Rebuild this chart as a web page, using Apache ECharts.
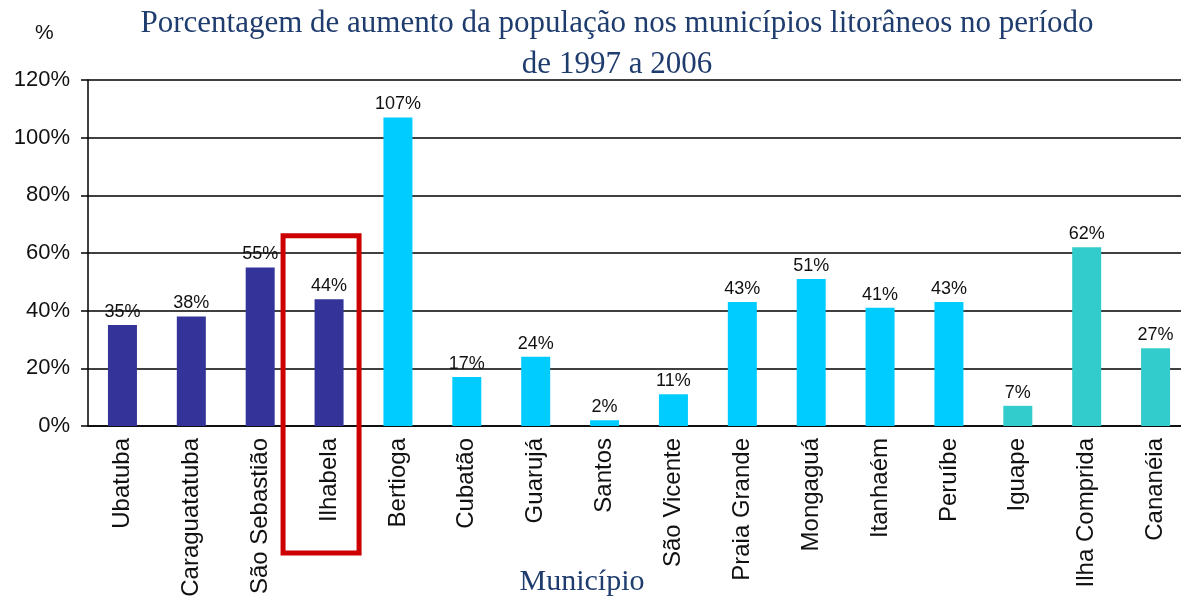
<!DOCTYPE html>
<html>
<head>
<meta charset="utf-8">
<script src="https://cdn.jsdelivr.net/npm/echarts@6/dist/echarts.min.js"></script>
<style>
  html, body { margin: 0; padding: 0; background: #fff; }
  #chart { width: 1181px; height: 597px; }
</style>
</head>
<body>
<div id="chart"></div>
<script>
// municipios do litoral paulista
var municipios = ['Ubatuba', 'Caraguatatuba', 'São Sebastião', 'Ilhabela', 'Bertioga', 'Cubatão',
  'Guarujá', 'Santos', 'São Vicente', 'Praia Grande', 'Mongaguá', 'Itanhaém', 'Peruíbe',
  'Iguape', 'Ilha Comprida', 'Cananéia']
// aumento da populacao 1997-2006 (%)
var aumento = [35, 38, 55, 44, 107, 17, 24, 2, 11, 43, 51, 41, 43, 7, 62, 27]
// litoral norte / baixada santista / vale do ribeira
var regiao = [0, 0, 0, 0, 1, 1, 1, 1, 1, 1, 1, 1, 1, 2, 2, 2]
var destaque = 'Ilhabela'

var cores = ['#333399', '#00ccff', '#33cccc']

var chart = echarts.init(document.getElementById('chart'))

chart.setOption({
  animation: false,
  title: [{
    text: 'Porcentagem de aumento da população nos municípios litorâneos no período\nde 1997 a 2006',
    left: 612,
    top: -2,
    textAlign: 'center',
    textStyle: {
      fontFamily: 'Liberation Serif',
      fontWeight: 'normal',
      fontSize: 31,
      lineHeight: 41,
      color: '#1f3c6e'
    }
  }, {
    text: '%',
    left: 30,
    top: 18,
    textStyle: { fontFamily: 'Liberation Sans', fontWeight: 'normal', fontSize: 21, color: '#111' }
  }, {
    text: 'Município',
    left: 577,
    top: 562,
    textAlign: 'center',
    textStyle: { fontFamily: 'Liberation Serif', fontWeight: 'normal', fontSize: 30, color: '#1f3c6e' }
  }],
  // labels passam da borda de baixo: nao deixar o grid encolher
  grid: { left: 88, top: 80, width: 1102, height: 346, outerBoundsMode: 'none' },
  xAxis: {
    type: 'category',
    data: municipios,
    axisLine: { lineStyle: { color: '#000', width: 1.5 } },
    axisTick: { length: 6, lineStyle: { color: '#000', width: 1.5 } },
    axisLabel: {
      rotate: 90,
      interval: 0,
      margin: 12,
      fontFamily: 'Liberation Sans',
      fontSize: 24,
      color: '#111'
    }
  },
  yAxis: {
    type: 'value',
    min: 0,
    max: 120,
    interval: 20,
    axisLine: { show: true, lineStyle: { color: '#000', width: 1.5 } },
    axisTick: { show: true, length: 7, lineStyle: { color: '#000', width: 1.5 } },
    splitLine: { lineStyle: { color: '#000', width: 1.5 } },
    axisLabel: {
      formatter: '{value}%',
      margin: 18,
      fontFamily: 'Liberation Sans',
      fontSize: 22,
      color: '#111'
    }
  },
  series: [{
    type: 'bar',
    barWidth: 29,
    data: aumento.map(function (v, i) {
      return { value: v, itemStyle: { color: cores[regiao[i]] } }
    }),
    label: {
      show: true,
      position: 'top',
      distance: 4,
      formatter: '{c}%',
      fontFamily: 'Liberation Sans',
      fontSize: 18,
      color: '#111'
    }
  }]
})

// caixa vermelha em volta de Ilhabela
var cx = chart.convertToPixel({ xAxisIndex: 0 }, destaque)
var topo = chart.convertToPixel({ yAxisIndex: 0 }, 66)
chart.setOption({
  graphic: [{
    type: 'rect',
    shape: { x: cx - 46, y: topo, width: 76, height: 553 - topo },
    style: { fill: 'none', stroke: '#cc0000', lineWidth: 5 },
    z: 100
  }]
})
</script>
</body>
</html>
